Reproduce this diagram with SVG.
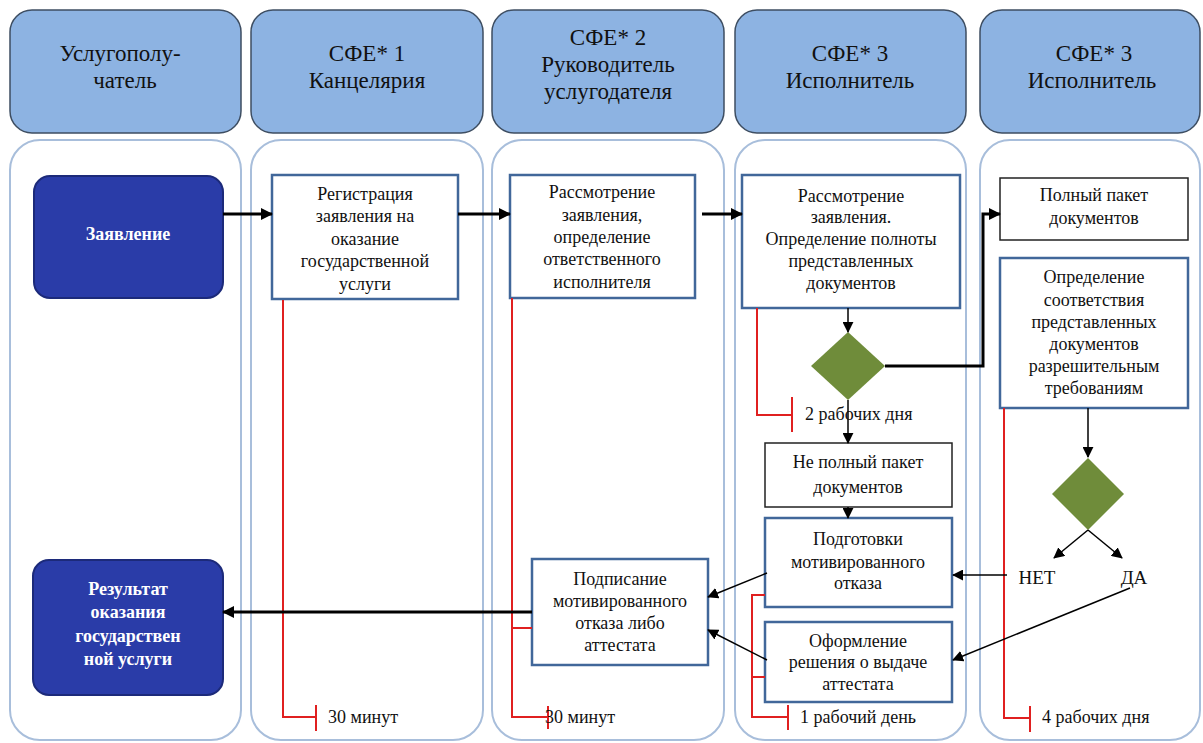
<svg xmlns="http://www.w3.org/2000/svg" width="1203" height="743" viewBox="0 0 1203 743" font-family="'Liberation Serif', serif">
<defs>
<marker id="ah" markerUnits="userSpaceOnUse" markerWidth="12" markerHeight="12" viewBox="0 0 12 12" refX="11" refY="6" orient="auto">
<path d="M0,0 L12,6 L0,12 Z" fill="#000"/>
</marker>
<marker id="ahs" markerUnits="userSpaceOnUse" markerWidth="11" markerHeight="11" viewBox="0 0 12 12" refX="11" refY="6" orient="auto">
<path d="M0,0 L12,6 L0,12 Z" fill="#000"/>
</marker>
</defs>
<style>
text{font-family:'Liberation Serif',serif;fill:#111;text-anchor:middle}
.hdr{fill:#8db3e2;stroke:#3e4e62;stroke-width:1.5}
.hdr-t{font-size:23px}
.lane{fill:#fff;stroke:#a8bedb;stroke-width:2}
.box{fill:#fff;stroke:#41679a;stroke-width:2.5}
.boxk{fill:#fff;stroke:#222;stroke-width:1.5}
.dark{fill:#2a3ca8;stroke:#1c2a7a;stroke-width:2}
.dia{fill:#6f8c3a}
.t{font-size:18px}
.w{font-size:18px;fill:#fff;font-weight:bold}
.tm{font-size:18px;text-anchor:start}
.thick{fill:none;stroke:#000;stroke-width:3}
.thin{fill:none;stroke:#000;stroke-width:1.5}
.red{fill:none;stroke:#e02020;stroke-width:2}
</style>
<rect width="1203" height="743" fill="#fff"/>

<g id="lanes">
<rect class="lane" x="10" y="140" width="231" height="600" rx="30"/>
<rect class="lane" x="251" y="140" width="232" height="600" rx="30"/>
<rect class="lane" x="492" y="140" width="232" height="600" rx="30"/>
<rect class="lane" x="735" y="140" width="231" height="600" rx="30"/>
<rect class="lane" x="980" y="140" width="220" height="600" rx="30"/>
</g>

<g id="header1"><rect class="hdr" x="10" y="10" width="231" height="123" rx="22"/>
<text class="hdr-t" x="120" y="61">Услугополу-</text><text class="hdr-t" x="125" y="88">чатель</text></g>
<g id="header2"><rect class="hdr" x="251" y="10" width="232" height="123" rx="22"/>
<text class="hdr-t" x="367" y="61">СФЕ* 1</text><text class="hdr-t" x="367" y="88">Канцелярия</text></g>
<g id="header3"><rect class="hdr" x="492" y="10" width="232" height="123" rx="22"/>
<text class="hdr-t" x="608" y="45">СФЕ* 2</text><text class="hdr-t" x="608" y="72">Руководитель</text><text class="hdr-t" x="608" y="99">услугодателя</text></g>
<g id="header4"><rect class="hdr" x="735" y="10" width="231" height="123" rx="22"/>
<text class="hdr-t" x="850" y="61">СФЕ* 3</text><text class="hdr-t" x="850" y="88">Исполнитель</text></g>
<g id="header5"><rect class="hdr" x="980" y="10" width="220" height="123" rx="22"/>
<text class="hdr-t" x="1094" y="61">СФЕ* 3</text><text class="hdr-t" x="1092" y="88">Исполнитель</text></g>

<g id="zayavlenie"><rect class="dark" x="34" y="176" width="189" height="122" rx="16"/>
<text class="w" x="128" y="240">Заявление</text></g>

<g id="registration"><rect class="box" x="272" y="175" width="186" height="124"/>
<text class="t" x="365" y="200">Регистрация</text>
<text class="t" x="365" y="222">заявления на</text>
<text class="t" x="365" y="245">оказание</text>
<text class="t" x="365" y="267">государственной</text>
<text class="t" x="365" y="290">услуги</text></g>

<g id="review-head"><rect class="box" x="510" y="175" width="185" height="123"/>
<text class="t" x="602" y="198">Рассмотрение</text>
<text class="t" x="602" y="221">заявления,</text>
<text class="t" x="602" y="243">определение</text>
<text class="t" x="602" y="265">ответственного</text>
<text class="t" x="602" y="288">исполнителя</text></g>

<g id="review-exec"><rect class="box" x="742" y="175" width="218" height="133"/>
<text class="t" x="851" y="202">Рассмотрение</text>
<text class="t" x="851" y="223">заявления.</text>
<text class="t" x="851" y="245">Определение полноты</text>
<text class="t" x="851" y="267">представленных</text>
<text class="t" x="851" y="289">документов</text></g>

<g id="decision1"><polygon class="dia" points="848,332 885,366 848,400 811,366"/></g>

<g id="full-pack"><rect class="boxk" x="1000" y="178" width="188" height="62"/>
<text class="t" x="1094" y="201">Полный пакет</text>
<text class="t" x="1094" y="224">документов</text></g>

<g id="compliance"><rect class="box" x="1000" y="258" width="188" height="150"/>
<text class="t" x="1094" y="283">Определение</text>
<text class="t" x="1094" y="306">соответствия</text>
<text class="t" x="1094" y="328">представленных</text>
<text class="t" x="1094" y="350">документов</text>
<text class="t" x="1094" y="372">разрешительным</text>
<text class="t" x="1094" y="394">требованиям</text></g>

<g id="decision2"><polygon class="dia" points="1088,458 1124,494 1088,530 1052,494"/></g>

<g id="incomplete"><rect class="boxk" x="765" y="443" width="187" height="64"/>
<text class="t" x="858" y="468">Не полный пакет</text>
<text class="t" x="858" y="493">документов</text></g>

<g id="prepare-refusal"><rect class="box" x="765" y="518" width="187" height="89"/>
<text class="t" x="858" y="545">Подготовки</text>
<text class="t" x="858" y="568">мотивированного</text>
<text class="t" x="858" y="589">отказа</text></g>

<g id="issue-decision"><rect class="box" x="765" y="622" width="187" height="80"/>
<text class="t" x="858" y="647">Оформление</text>
<text class="t" x="858" y="668">решения о выдаче</text>
<text class="t" x="858" y="690">аттестата</text></g>

<g id="signing"><rect class="box" x="532" y="559" width="176" height="106"/>
<text class="t" x="620" y="585">Подписание</text>
<text class="t" x="620" y="607">мотивированного</text>
<text class="t" x="620" y="629">отказа либо</text>
<text class="t" x="620" y="651">аттестата</text></g>

<g id="result"><rect class="dark" x="33" y="560" width="190" height="135" rx="16"/>
<text class="w" x="128" y="595">Результат</text>
<text class="w" x="128" y="618">оказания</text>
<text class="w" x="128" y="642">государствен</text>
<text class="w" x="128" y="665">ной услуги</text></g>

<g id="labels">
<text x="1037" y="584" style="font-size:19px">НЕТ</text>
<text x="1134" y="584" style="font-size:19px">ДА</text>
</g>

<g id="timing">
<path class="red" d="M283,300 V717 H316 M316,705 V731"/>
<text class="tm" x="328" y="723">30 минут</text>
<path class="red" d="M512,298 V717 H548 M548,706 V729 M512,628 H532"/>
<text class="tm" x="545" y="723">30 минут</text>
<path class="red" d="M757,308 V415 H792 M792,397 V432"/>
<text class="tm" x="805" y="420">2 рабочих дня</text>
<path class="red" d="M765,595 H752 V717 H788 M752,677 H765 M788,705 V730"/>
<text class="tm" x="800" y="723">1 рабочий день</text>
<path class="red" d="M1004,408 V718 H1030 M1030,706 V732"/>
<text class="tm" x="1042" y="723">4 рабочих дня</text>
</g>

<g id="connectors">
<path class="thick" d="M223,214 H272" marker-end="url(#ah)"/>
<path class="thick" d="M458,214 H510" marker-end="url(#ah)"/>
<path class="thick" d="M702,214 H742" marker-end="url(#ah)"/>
<path class="thin" d="M848,308 V332" marker-end="url(#ahs)"/>
<path class="thick" d="M885,366 H983 V214 H1000" marker-end="url(#ah)"/>
<path class="thin" d="M848,400 V443" marker-end="url(#ahs)"/>
<path class="thin" d="M848,507 V518" marker-end="url(#ahs)"/>
<path class="thin" d="M1088,408 V457" marker-end="url(#ahs)"/>
<path class="thin" d="M1088,530 L1054,558" marker-end="url(#ahs)"/>
<path class="thin" d="M1088,530 L1122,558" marker-end="url(#ahs)"/>
<path class="thin" d="M1007,575 H953" marker-end="url(#ahs)"/>
<path class="thin" d="M1130,588 L953,660" marker-end="url(#ahs)"/>
<path class="thin" d="M767,573 L708,597" marker-end="url(#ahs)"/>
<path class="thin" d="M767,660 L708,630" marker-end="url(#ahs)"/>
<path class="thick" d="M532,612 H223" marker-end="url(#ah)"/>
</g>
</svg>
